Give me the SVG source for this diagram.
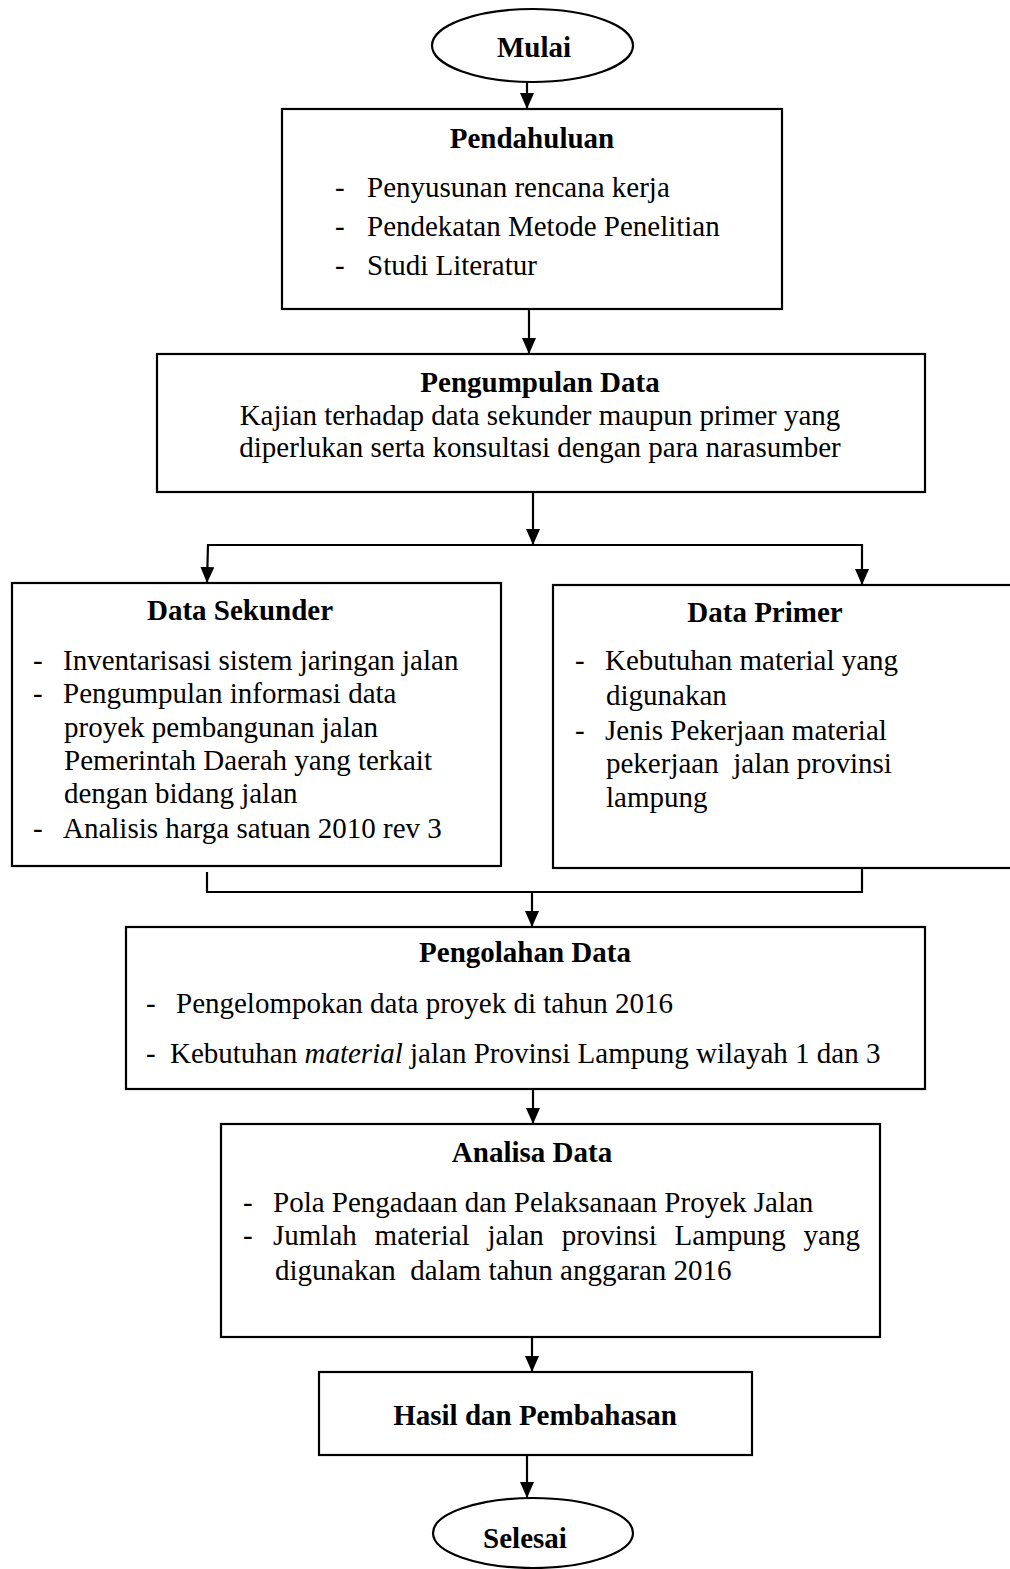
<svg xmlns="http://www.w3.org/2000/svg" width="1010" height="1569" viewBox="0 0 1010 1569">
<defs>
<marker id="ah" viewBox="0 0 16 14" refX="16" refY="7" markerWidth="16" markerHeight="14" markerUnits="userSpaceOnUse" orient="auto">
<path d="M0,0 L16,7 L0,14 z" fill="#000"/>
</marker>
<style>
.box{fill:#fff;stroke:#000;stroke-width:2.2}
.t{font-family:"Liberation Serif","Times New Roman",serif;font-size:29px;fill:#000}
.b{font-weight:bold}
.c{text-anchor:middle}
.ln{fill:none;stroke:#000;stroke-width:2.2}
.ar{fill:none;stroke:#000;stroke-width:2.2;marker-end:url(#ah)}
.pre{white-space:pre}
</style>
</defs>
<rect width="1010" height="1569" fill="#fff"/>

<g id="connectors">
<line class="ar" x1="527" y1="82" x2="527" y2="109"/>
<line class="ar" x1="529" y1="309" x2="529" y2="354"/>
<line class="ar" x1="533" y1="492" x2="533" y2="545"/>
<line class="ln" x1="208" y1="545" x2="863" y2="545"/>
<line class="ar" x1="208" y1="544" x2="207" y2="583"/>
<line class="ar" x1="862" y1="544" x2="862" y2="585"/>
<polyline class="ln" points="207,872 207,892 862,892 862,869"/>
<line class="ar" x1="532" y1="892" x2="532" y2="927"/>
<line class="ar" x1="533" y1="1089" x2="533" y2="1124"/>
<line class="ar" x1="532" y1="1337" x2="532" y2="1372"/>
<line class="ar" x1="527" y1="1455" x2="527" y2="1498"/>
</g>

<g id="mulai">
<ellipse class="box" cx="532.5" cy="45.5" rx="100.5" ry="36.5"/>
<text class="t b c" x="534" y="57">Mulai</text>
</g>

<g id="pendahuluan">
<rect class="box" x="282" y="109" width="500" height="200"/>
<text class="t b c" x="532" y="148">Pendahuluan</text>
<text class="t" x="335" y="197">-</text><text class="t" x="367" y="197">Penyusunan rencana kerja</text>
<text class="t" x="335" y="236">-</text><text class="t" x="367" y="236">Pendekatan Metode Penelitian</text>
<text class="t" x="335" y="275">-</text><text class="t" x="367" y="275">Studi Literatur</text>
</g>

<g id="pengumpulan">
<rect class="box" x="157" y="354" width="768" height="138"/>
<text class="t b c" x="540" y="392">Pengumpulan Data</text>
<text class="t c" x="540" y="425">Kajian terhadap data sekunder maupun primer yang</text>
<text class="t c" x="540" y="457">diperlukan serta konsultasi dengan para narasumber</text>
</g>

<g id="data-sekunder">
<rect class="box" x="12" y="583" width="489" height="283"/>
<text class="t b c" x="240" y="620">Data Sekunder</text>
<text class="t" x="33" y="670">-</text><text class="t" x="63" y="670">Inventarisasi sistem jaringan jalan</text>
<text class="t" x="33" y="703">-</text><text class="t" x="63" y="703">Pengumpulan informasi data</text>
<text class="t" x="64" y="737">proyek pembangunan jalan</text>
<text class="t" x="64" y="770">Pemerintah Daerah yang terkait</text>
<text class="t" x="64" y="803">dengan bidang jalan</text>
<text class="t" x="33" y="838">-</text><text class="t" x="63" y="838">Analisis harga satuan 2010 rev 3</text>
</g>

<g id="data-primer">
<rect class="box" x="553" y="585" width="470" height="283"/>
<text class="t b c" x="765" y="622">Data Primer</text>
<text class="t" x="575" y="670">-</text><text class="t" x="605" y="670">Kebutuhan material yang</text>
<text class="t" x="606" y="705">digunakan</text>
<text class="t" x="575" y="740">-</text><text class="t" x="605" y="740">Jenis Pekerjaan material</text>
<text class="t pre" x="606" y="773">pekerjaan  jalan provinsi</text>
<text class="t" x="606" y="807">lampung</text>
</g>

<g id="pengolahan">
<rect class="box" x="126" y="927" width="799" height="162"/>
<text class="t b c" x="525" y="962">Pengolahan Data</text>
<text class="t" x="146" y="1013">-</text><text class="t" x="176" y="1013">Pengelompokan data proyek di tahun 2016</text>
<text class="t" x="146" y="1063">-</text><text class="t" x="170" y="1063">Kebutuhan <tspan font-style="italic">material</tspan> jalan Provinsi Lampung wilayah 1 dan 3</text>
</g>

<g id="analisa">
<rect class="box" x="221" y="1124" width="659" height="213"/>
<text class="t b c" x="532" y="1162">Analisa Data</text>
<text class="t" x="243" y="1212">-</text><text class="t" x="273" y="1212">Pola Pengadaan dan Pelaksanaan Proyek Jalan</text>
<text class="t" x="243" y="1245">-</text><text class="t" x="273" y="1245" word-spacing="10.6">Jumlah material jalan provinsi Lampung yang</text>
<text class="t pre" x="275" y="1280">digunakan  dalam tahun anggaran 2016</text>
</g>

<g id="hasil">
<rect class="box" x="319" y="1372" width="433" height="83"/>
<text class="t b c" x="535" y="1425">Hasil dan Pembahasan</text>
</g>

<g id="selesai">
<ellipse class="box" cx="533" cy="1533" rx="100" ry="35"/>
<text class="t b c" x="525" y="1548">Selesai</text>
</g>
</svg>
